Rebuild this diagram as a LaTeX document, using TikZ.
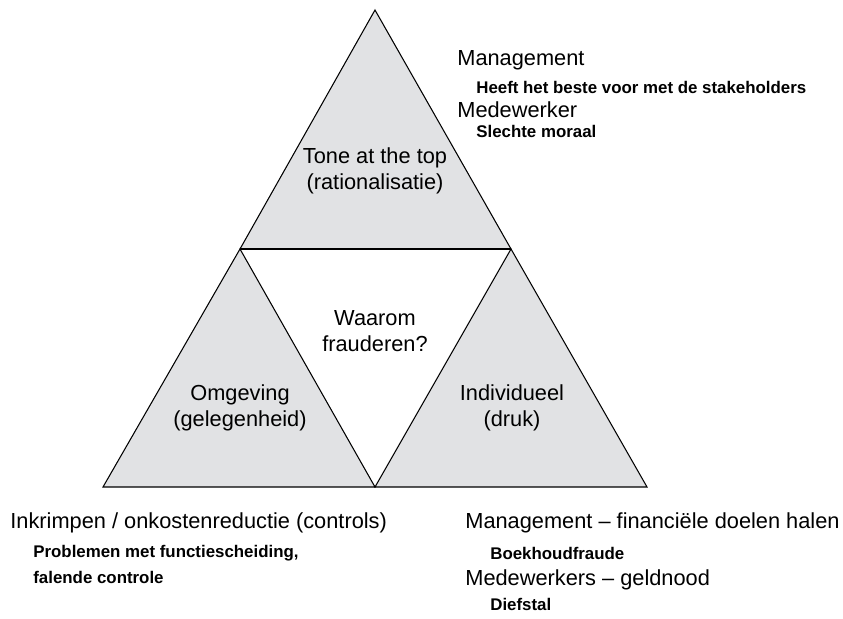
\documentclass[tikz,border=0pt]{standalone}
\usepackage{fontspec}
\setmainfont{Liberation Sans}
\usepackage{xcolor}
\usetikzlibrary{positioning}
\definecolor{trigray}{RGB}{225,226,228}

\begin{document}
\begin{tikzpicture}[
  x=0.02cm, y=-0.02cm,
  part/.style={draw=black, fill=trigray, line width=0.6pt},
  main/.style={font=\fontsize{12.4}{15}\selectfont, align=center, inner sep=0pt},
  head/.style={font=\fontsize{12.4}{15}\selectfont, anchor=base west, inner sep=0pt},
  sub/.style={font=\fontsize{9.6}{11}\selectfont\bfseries, anchor=base west, inner sep=0pt}
]
  \useasboundingbox (0,0) rectangle (843,619);

  % Corners
  \coordinate (apex) at (375,10);
  \coordinate (ml) at (240,249);
  \coordinate (mr) at (511,249);
  \coordinate (bl) at (103,487);
  \coordinate (bm) at (375,487);
  \coordinate (br) at (647,487);

  % Triangles
  \filldraw[part] (apex) -- (mr) -- (ml) -- cycle;
  \filldraw[part] (ml) -- (bm) -- (bl) -- cycle;
  \filldraw[part] (mr) -- (br) -- (bm) -- cycle;
  \draw[line width=1.5pt] (ml) -- (mr);

  % Nodes
  \node[main] (tone) at (375,171) {Tone at the top\\(rationalisatie)};
  \node[main] (why) at (375,331) {Waarom\\frauderen?};
  \node[main] (env) at (240,408) {Omgeving\\(gelegenheid)};
  \node[main] (ind) at (512,408) {Individueel\\(druk)};

  % Annotations
  \node[head] (mgt) at (457,65) {Management};
  \node[sub] (mgtsub) at (476,93) {Heeft het beste voor met de stakeholders};
  \node[head] (emp) at (457,117) {Medewerker};
  \node[sub] (empsub) at (476,137) {Slechte moraal};

  \node[head] (cut) at (10,528) {Inkrimpen / onkostenreductie (controls)};
  \node[sub] (cutsub) at (33,557) {Problemen met functiescheiding,};
  \node[sub] (cutsubb) at (33,583) {falende controle};

  \node[head] (fin) at (465,528) {Management -- financiële doelen halen};
  \node[sub] (finsub) at (490,559) {Boekhoudfraude};
  \node[head] (cash) at (465,585) {Medewerkers -- geldnood};
  \node[sub] (cashsub) at (490,610) {Diefstal};
\end{tikzpicture}
\end{document}
